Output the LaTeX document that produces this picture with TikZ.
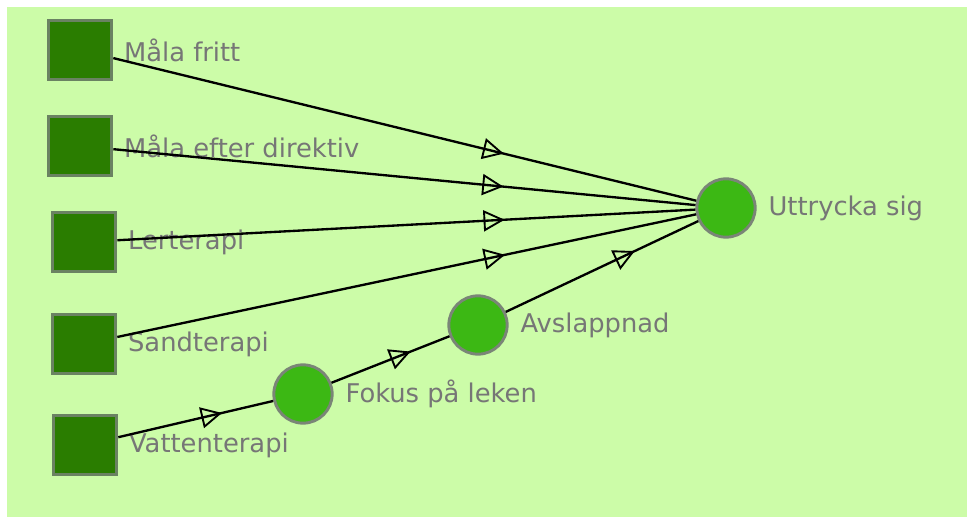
\documentclass[tikz,border=0pt]{standalone}
\usepackage{fontspec}
\setmainfont{DejaVu Sans}
\usetikzlibrary{arrows.meta,decorations.markings}
\definecolor{bggreen}{HTML}{CCFCA8}
\definecolor{sqgreen}{HTML}{2A7D00}
\definecolor{sqedge}{HTML}{6A8262}
\definecolor{dotgreen}{HTML}{3CB814}
\definecolor{dotedge}{HTML}{7A8577}
\definecolor{txtgray}{HTML}{767676}
\begin{document}
\begin{tikzpicture}[x=0.03cm, y=-0.03cm,
        act/.style={rectangle, minimum width=1.9cm, minimum height=1.75cm, inner sep=0pt,
            fill=sqgreen, draw=sqedge, line width=2.8pt},
        goal/.style={circle, minimum size=1.75cm, inner sep=0pt,
            fill=dotgreen, draw=dotedge, line width=2.5pt},
        lbl/.style={text=txtgray, font=\fontsize{22}{26}\selectfont, inner sep=0pt},
        link/.style={line width=2pt, black, postaction={decorate},
            decoration={markings, mark=at position 0.67 with
                {\arrow{Triangle[open, length=18pt, width=18pt, line width=1.6pt]}}}}]
        % Background
        \fill[white] (0,0) rectangle (967,517);
        \fill[bggreen] (7,7) rectangle (967,517);
        \useasboundingbox (0,0) rectangle (967,517);

        % Activities
        \node[act, label={[lbl, label distance=9pt]right:Måla fritt}] (fritt) at (80,50) {};
        \node[act, label={[lbl, label distance=9pt]right:Måla efter direktiv}] (direktiv) at (80,146) {};
        \node[act, label={[lbl, label distance=9pt]right:Lerterapi}] (ler) at (84,242) {};
        \node[act, label={[lbl, label distance=9pt]right:Sandterapi}] (sand) at (84,344) {};
        \node[act, label={[lbl, label distance=9pt]right:Vattenterapi}] (vatten) at (85,445) {};

        % Effects
        \node[goal, label={[lbl, label distance=10pt]right:Fokus på leken}] (fokus) at (303,394) {};
        \node[goal, label={[lbl, label distance=10pt]right:Avslappnad}] (avslapp) at (478,325) {};
        \node[goal, label={[lbl, label distance=10pt]right:Uttrycka sig}] (uttryck) at (726,208) {};

        % Links
        \draw[link] (fritt) -- (uttryck);
        \draw[link] (direktiv) -- (uttryck);
        \draw[link] (ler) -- (uttryck);
        \draw[link] (sand) -- (uttryck);
        \draw[link] (vatten) -- (fokus);
        \draw[link] (fokus) -- (avslapp);
        \draw[link] (avslapp) -- (uttryck);
    \end{tikzpicture}
\end{document}
